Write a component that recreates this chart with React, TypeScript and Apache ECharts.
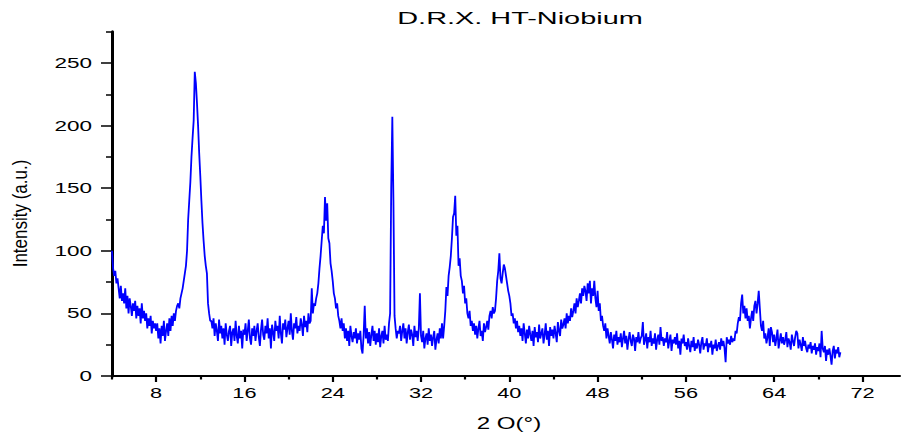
import React, { useEffect, useRef } from 'react';
import * as echarts from 'echarts';

// ---- chart texts ----
const titleText = 'D.R.X. HT-Niobium';
const xAxisName = '2 O(°)';
const yAxisName = 'Intensity (a.u.)';

// ---- axes ----
const X_MIN = 4;
const X_MAX = 75.4;
const Y_MIN = 0;
const Y_MAX = 275;
const xMajorTicks = [8, 16, 24, 32, 40, 48, 56, 64, 72];
const xMinorTicks = [4, 12, 20, 28, 36, 44, 52, 60, 68];
const yMajorTicks = [0, 50, 100, 150, 200, 250];
const yMinorTicks = [25, 75, 125, 175, 225, 275];

const STEP = 0.1;
const seg04to14 = [
  100, 86, 80, 84, 74, 78, 70, 62, 72, 60,
  66, 58, 70, 54, 64, 50, 62, 56, 48, 58,
  52, 60, 46, 56, 48, 54, 42, 58, 46, 52,
  44, 50, 38, 46, 40, 48, 34, 44, 38, 42,
  36, 42, 30, 38, 26, 40, 32, 44, 28, 36,
  42, 32, 46, 36, 48, 40, 50, 44, 52, 56,
  58, 54, 62, 66, 70, 76, 82, 88, 100, 125,
  140, 155, 175, 190, 204, 243, 234, 218, 200, 178,
  160, 140, 122, 108, 96, 88, 82, 58, 50, 44,
  44, 38, 46, 32, 42, 36, 28, 45, 34, 40,
];
const seg14to24 = [
  30, 38, 25, 42, 33, 28, 36, 40, 24, 35,
  38, 28, 44, 32, 26, 40, 30, 36, 22, 37,
  33, 42, 28, 36, 45, 30, 25, 38, 32, 40,
  28, 36, 42, 31, 24, 37, 45, 33, 29, 40,
  34, 46, 30, 38, 22, 41, 35, 28, 44, 36,
  40, 30, 48, 34, 26, 42, 37, 45, 31, 38,
  44, 33, 50, 36, 29, 42, 38, 47, 34, 40,
  36, 46, 41, 32, 48, 39, 44, 35, 50, 42,
  44, 70, 50, 58, 56, 62, 66, 74, 86, 96,
  108, 120, 114, 143, 124, 138, 110, 106, 90, 84,
];
const seg24to34 = [
  76, 66, 62, 54, 58, 48, 44, 38, 46, 36,
  42, 30, 38, 28, 36, 24, 40, 32, 27, 35,
  30, 38, 26, 34, 29, 36, 22, 18, 33, 56,
  30, 38, 26, 35, 24, 33, 40, 28, 36, 25,
  34, 27, 38, 23, 32, 36, 26, 40, 29, 33,
  28, 42, 50, 150, 207, 140, 48, 38, 30, 36,
  34, 40, 28, 36, 42, 30, 38, 26, 35, 41,
  29, 37, 33, 24, 40, 31, 36, 28, 38, 66,
  32, 27, 36, 22, 30, 34, 25, 38, 28, 33,
  24, 31, 36, 21, 29, 34, 26, 38, 30, 42,
];
const seg34to44 = [
  30, 40, 52, 71, 64, 80, 87, 96, 110, 127,
  130, 144, 112, 120, 88, 94, 80, 76, 66, 72,
  58, 62, 50, 46, 52, 40, 44, 36, 42, 33,
  40, 30, 38, 44, 32, 36, 28, 42, 35, 39,
  44, 37, 48, 52, 46, 55, 50, 52, 62, 76,
  84, 98, 78, 74, 82, 89, 86, 80, 74, 68,
  64, 58, 48, 50, 42, 46, 38, 44, 35, 40,
  32, 38, 28, 42, 34, 26, 37, 30, 40, 33,
  28, 36, 24, 39, 31, 35, 27, 41, 30, 34,
  38, 26, 33, 42, 29, 36, 24, 39, 32, 37,
];
const seg44to54 = [
  30, 40, 34, 27, 43, 36, 32, 45, 38, 41,
  46, 38, 50, 42, 48, 44, 54, 47, 52, 58,
  50, 62, 55, 60, 66, 58, 70, 64, 72, 68,
  60, 74, 66, 76, 58, 70, 64, 76, 62, 55,
  68, 52, 58, 44, 48, 40, 36, 42, 30, 38,
  32, 26, 35, 29, 22, 33, 28, 36, 25, 31,
  27, 34, 23, 30, 36, 26, 32, 21, 29, 35,
  28, 24, 33, 30, 20, 31, 27, 35, 26, 30,
  32, 43, 25, 29, 34, 22, 31, 27, 36, 24,
  30, 26, 34, 21, 29, 33, 25, 39, 28, 31,
];
const seg54to64 = [
  24, 30, 27, 35, 22, 28, 33, 20, 29, 26,
  31, 25, 34, 22, 28, 17, 30, 26, 33, 24,
  27, 21, 30, 24, 19, 28, 23, 31, 20, 26,
  22, 29, 25, 18, 27, 31, 21, 26, 24, 30,
  19, 26, 23, 28, 17, 25, 22, 29, 20, 24,
  27, 21, 30, 24, 28, 22, 11, 31, 26, 29,
  25, 32, 27, 30, 28, 36, 34, 42, 47, 44,
  58, 65, 50, 56, 46, 54, 44, 48, 38, 46,
  52, 44, 56, 60, 50, 58, 68, 54, 40, 36,
  44, 30, 34, 26, 31, 38, 24, 39, 35, 27,
];
const seg64to70 = [
  33, 24, 30, 37, 22, 28, 34, 26, 31, 25,
  29, 35, 23, 30, 27, 21, 33, 28, 24, 31,
  36, 34, 22, 29, 25, 20, 31, 24, 28, 22,
  19, 25, 22, 27, 18, 24, 21, 26, 17, 23,
  20, 26, 15, 36, 22, 19, 24, 12, 21, 17,
  22, 16, 9, 20, 24, 14, 21, 18, 23, 15,
  19,
];
const segmentStarts = [4, 14, 24, 34, 44, 54, 64];
const segmentValues = [seg04to14, seg14to24, seg24to34, seg34to44, seg44to54, seg54to64, seg64to70];

const FONT = '"Liberation Sans", Arial, Helvetica, sans-serif';

export default function App() {
  const ref = useRef<HTMLDivElement>(null);

  useEffect(() => {
    const el = ref.current;
    if (!el) return;
    const chart = echarts.init(el, undefined, { renderer: 'svg' });

    const data: [number, number][] = [];
    segmentValues.forEach((vals, s) => {
      vals.forEach((v, i) => {
        data.push([Math.round((segmentStarts[s] + i * STEP) * 100) / 100, v]);
      });
    });

    const grid = { left: 112, right: 1, top: 31.7, bottom: 58, containLabel: false };

    chart.setOption({
      animation: false,
      grid: [grid, { ...grid }],
      xAxis: [
        {
          type: 'value', gridIndex: 0, min: X_MIN, max: X_MAX,
          axisLine: { show: true, onZero: false, lineStyle: { color: '#000', width: 2 } },
          axisTick: { show: true, customValues: xMajorTicks, length: 6, inside: false, lineStyle: { color: '#000', width: 2.2 } },
          axisLabel: { show: false },
          splitLine: { show: false },
        },
        {
          type: 'value', gridIndex: 1, min: X_MIN, max: X_MAX,
          axisLine: { show: false, onZero: false },
          axisTick: { show: true, customValues: xMinorTicks, length: 3.5, inside: false, lineStyle: { color: '#000', width: 2.2 } },
          axisLabel: { show: false },
          splitLine: { show: false },
        },
      ],
      yAxis: [
        {
          type: 'value', gridIndex: 0, min: Y_MIN, max: Y_MAX,
          axisLine: { show: true, onZero: false, lineStyle: { color: '#000', width: 3 } },
          axisTick: { show: true, customValues: yMajorTicks, length: 11, inside: false, lineStyle: { color: '#000', width: 1.5 } },
          axisLabel: { show: false },
          splitLine: { show: false },
        },
        {
          type: 'value', gridIndex: 1, min: Y_MIN, max: Y_MAX,
          axisLine: { show: false, onZero: false },
          axisTick: { show: true, customValues: yMinorTicks, length: 6, inside: false, lineStyle: { color: '#000', width: 1.5 } },
          axisLabel: { show: false },
          splitLine: { show: false },
        },
      ],
      series: [
        {
          type: 'line',
          xAxisIndex: 0,
          yAxisIndex: 0,
          data,
          showSymbol: false,
          symbol: 'none',
          lineStyle: { color: '#0000ff', width: 1.8 },
          z: 1,
        },
      ],
    });

    const px = (v: number) => chart.convertToPixel({ xAxisIndex: 0 }, v) as unknown as number;
    const py = (v: number) => chart.convertToPixel({ yAxisIndex: 0 }, v) as unknown as number;

    const x0 = px(X_MIN);
    const y0 = py(0);

    const textEl = (text: string, x: number, y: number, size: number, align: string, vAlign: string, extra: any = {}) => ({
      type: 'text',
      x,
      y,
      silent: true,
      ...extra,
      style: {
        text,
        fill: '#000',
        font: `${size}px ${FONT}`,
        align,
        textAlign: align,
        verticalAlign: vAlign,
        textVerticalAlign: vAlign,
      },
    });

    const graphics: any[] = [];
    yMajorTicks.forEach((v) => {
      graphics.push(textEl(String(v), x0 - 20, py(v), 15, 'right', 'middle', { scaleX: 1.5 }));
    });
    xMajorTicks.forEach((v) => {
      graphics.push(textEl(String(v), px(v), y0 + 17, 15, 'center', 'middle', { scaleX: 1.45 }));
    });
    graphics.push(textEl(titleText, 520, 18, 17, 'center', 'middle', { scaleX: 1.7 }));
    graphics.push(textEl(xAxisName, 509, 423, 17, 'center', 'middle', { scaleX: 1.42 }));
    graphics.push(textEl(yAxisName, 20, 213.5, 17, 'center', 'middle', { rotation: Math.PI / 2, scaleY: 1.15 }));

    chart.setOption({ graphic: graphics });

    return () => {
      chart.dispose();
    };
  }, []);

  return (
    <div
      ref={ref}
      style={{ position: 'fixed', left: 0, top: 0, width: 901, height: 434, background: '#fff' }}
    />
  );
}
